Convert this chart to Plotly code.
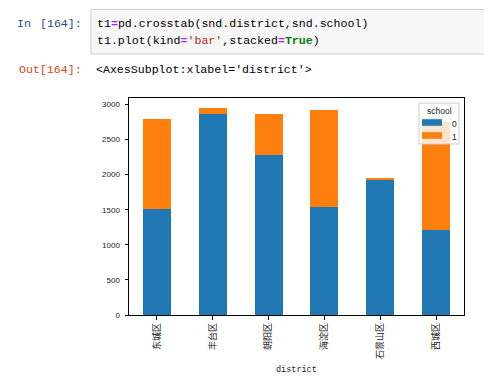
import plotly.graph_objects as go

# ---- data ----
districts = ["东城区", "丰台区", "朝阳区", "海淀区", "石景山区", "西城区"]
series_names = ["0", "1"]
school_0 = [1510, 2860, 2280, 1540, 1935, 1210]
school_1 = [1280, 85, 585, 1380, 15, 1540]
y_ticks = [0, 500, 1000, 1500, 2000, 2500, 3000]
colors = ["#1f77b4", "#ff7f0e"]

W, H = 492, 376
L, R, T, B = 121, 36, 90, 69
PW, PH = W - L - R, H - T - B


def px(x):
    return (x - L) / PW


def py(y):
    return (H - B - y) / PH


fig = go.Figure()
for name, vals, c in zip(series_names, [school_0, school_1], colors):
    fig.add_trace(go.Bar(x=list(range(len(districts))), y=vals, name=name,
                         marker=dict(color=c, line=dict(width=0)), width=0.5,
                         showlegend=False))

totals = [a + b for a, b in zip(school_0, school_1)]
ymax = max(totals) * 1.05

fig.update_layout(
    barmode="stack",
    width=W, height=H,
    margin=dict(l=L, r=R, t=T, b=B, pad=0),
    paper_bgcolor="white", plot_bgcolor="white",
    xaxis=dict(range=[-0.5, len(districts) - 0.5], tickmode="array",
               tickvals=list(range(len(districts))), ticktext=districts,
               tickangle=-90, ticks="outside", ticklen=3.5, tickcolor="black",
               tickwidth=1, showline=True, linecolor="black", linewidth=1,
               mirror=True, showgrid=False, zeroline=False,
               tickfont=dict(family="Noto Sans CJK SC", size=9, color="#222")),
    yaxis=dict(range=[0, ymax], tickmode="array", tickvals=y_ticks,
               ticks="outside", ticklen=3.5, tickcolor="black", tickwidth=1,
               showline=True, linecolor="black", linewidth=1, mirror=True,
               showgrid=False, zeroline=False, ticklabelstandoff=3,
               tickfont=dict(family="Liberation Sans", size=8, color="#222")),
)

shapes = []
annotations = []

# notebook code cell
shapes.append(dict(type="rect", xref="paper", yref="paper",
                   x0=px(83), x1=px(498), y0=py(46), y1=py(1.5),
                   fillcolor="#f7f7f7", line=dict(color="#cfcfcf", width=1),
                   layer="below"))

mono = "Liberation Mono, Courier New, monospace"
eq = "<span style='color:#aa22ff'><b>=</b></span>"
line1 = "t1" + eq + "pd.crosstab(snd.district,snd.school)"
line2 = ("t1.plot(kind" + eq + "<span style='color:#ba2121'>'bar'</span>,stacked" + eq
         + "<span style='color:#008000'><b>True</b></span>)")

def ann(text, x, y, color="black", size=11.6, family=mono, xanchor="left"):
    annotations.append(dict(text=text, xref="paper", yref="paper", x=px(x), y=py(y),
                            xanchor=xanchor, yanchor="middle", showarrow=False,
                            font=dict(family=family, size=size, color=color)))

ann("In", 7, 15, color="#303f9f")
ann("[164]:", 76, 15, color="#303f9f", xanchor="right")
ann(line1, 87, 15)
ann(line2, 87, 32)
ann("Out[164]:", 76, 61, color="#d84315", xanchor="right")
ann("&lt;AxesSubplot:xlabel='district'&gt;", 86, 61)

# x axis title
ann("district", 288.5, 362, color="#222", size=8.5, family=mono, xanchor="center")

# legend (custom, matplotlib style)
shapes.append(dict(type="rect", xref="paper", yref="paper",
                   x0=px(411), x1=px(451), y0=py(136), y1=py(95),
                   fillcolor="rgba(255,255,255,0.8)",
                   line=dict(color="#cccccc", width=1), layer="above"))
ann("school", 431, 103, color="#222", size=8.5, family="Liberation Sans", xanchor="center")
for i, (name, c) in enumerate(zip(series_names, colors)):
    yc = 114.5 + i * 13
    shapes.append(dict(type="rect", xref="paper", yref="paper",
                       x0=px(414), x1=px(434), y0=py(yc + 3.3), y1=py(yc - 3.3),
                       fillcolor=c, line=dict(width=0), layer="above"))
    ann(name, 442, yc + 1, color="#222", size=8.5, family="Liberation Sans")

fig.update_layout(shapes=shapes, annotations=annotations)
fig.write_html("out.html")
